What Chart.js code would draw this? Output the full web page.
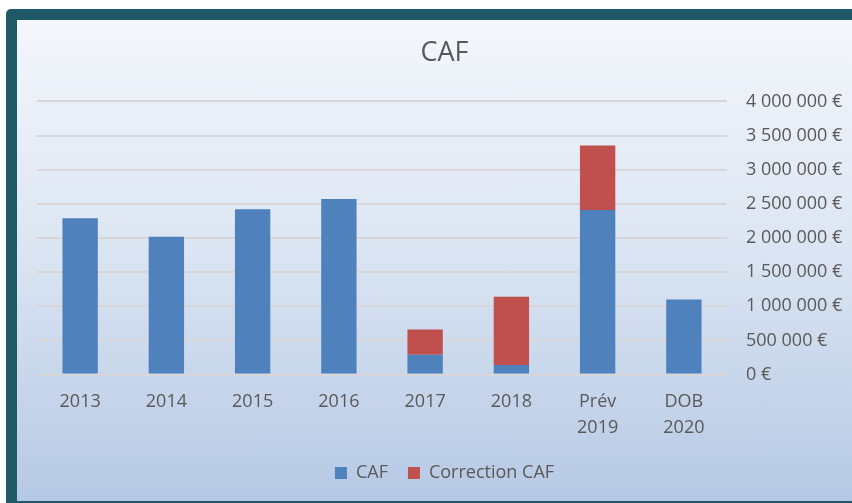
<!DOCTYPE html>
<html>
<head>
<meta charset="utf-8">
<script src="https://cdn.jsdelivr.net/npm/chart.js@4/dist/chart.umd.min.js"></script>
<style>
  html, body { margin: 0; padding: 0; background: #ffffff; overflow: hidden; }
  body { width: 852px; height: 503px; position: relative; }
  .frame {
    position: absolute; left: 6px; top: 9px; width: 880px; height: 481px;
    border: 11px solid #1F5968; border-radius: 5px;
    background: linear-gradient(to bottom, #F4F7FC 0%, #DDE6F3 45%, #B6C9E4 100%);
  }
  .wrap { position: absolute; left: 0; top: 0; width: 852px; height: 503px; }
</style>
</head>
<body>
<div class="frame"></div>
<div class="wrap"><canvas id="cafChart"></canvas></div>
<script>
const labels = ['2013', '2014', '2015', '2016', '2017', '2018', ['Prév', '2019'], ['DOB', '2020']];
const cafValues = [2290000, 2020000, 2420000, 2570000, 290000, 140000, 2410000, 1100000];
const correctionValues = [0, 0, 0, 0, 370000, 1000000, 945000, 0];
const yTicks = [0, 500000, 1000000, 1500000, 2000000, 2500000, 3000000, 3500000, 4000000];

const euro = (v) => String(Math.round(v)).replace(/\B(?=(\d{3})+(?!\d))/g, ' ') + ' €';
const textColor = '#595959';
const fontFamily = 'Open Sans';

const el = document.getElementById('cafChart');
new Chart(el, {
    type: 'bar',
    data: {
        labels,
        datasets: [
            { label: 'CAF', data: cafValues, backgroundColor: '#4F81BD', barPercentage: 0.41, categoryPercentage: 1 },
            { label: 'Correction CAF', data: correctionValues, backgroundColor: '#C0504D', barPercentage: 0.41, categoryPercentage: 1 },
        ],
    },
    options: {
        responsive: true,
        maintainAspectRatio: false,
        animation: false,
        layout: { padding: { left: 37, right: 0, top: 37, bottom: 11 } },
        plugins: {
            title: {
                display: true, text: 'CAF', color: textColor,
                font: { family: fontFamily, size: 27, weight: 'normal' }, padding: { top: 0, bottom: 32 },
            },
            legend: {
                position: 'bottom',
                labels: {
                    color: textColor, font: { family: fontFamily, size: 18 },
                    boxWidth: 12, boxHeight: 12, padding: 20,
                },
            },
            tooltip: { enabled: false },
        },
        scales: {
            x: {
                stacked: true,
                grid: { display: false, drawTicks: false },
                border: { display: false },
                ticks: { color: textColor, font: { family: fontFamily, size: 18, lineHeight: 1.4 }, padding: 15, maxRotation: 0 },
                afterFit: (s) => { s.height -= 11; },
            },
            y: {
                stacked: true,
                position: 'right',
                min: 0, max: 4000000,
                afterBuildTicks: (axis) => { axis.ticks = yTicks.map(v => ({ value: v })); },
                grid: { color: '#D8D6D8', lineWidth: 2, drawTicks: false },
                border: { display: false },
                ticks: { color: textColor, font: { family: fontFamily, size: 18 }, padding: 19, callback: (v) => euro(v) },
                afterFit: (s) => { s.width = 125; },
            },
        },
    },
});
</script>
</body>
</html>
